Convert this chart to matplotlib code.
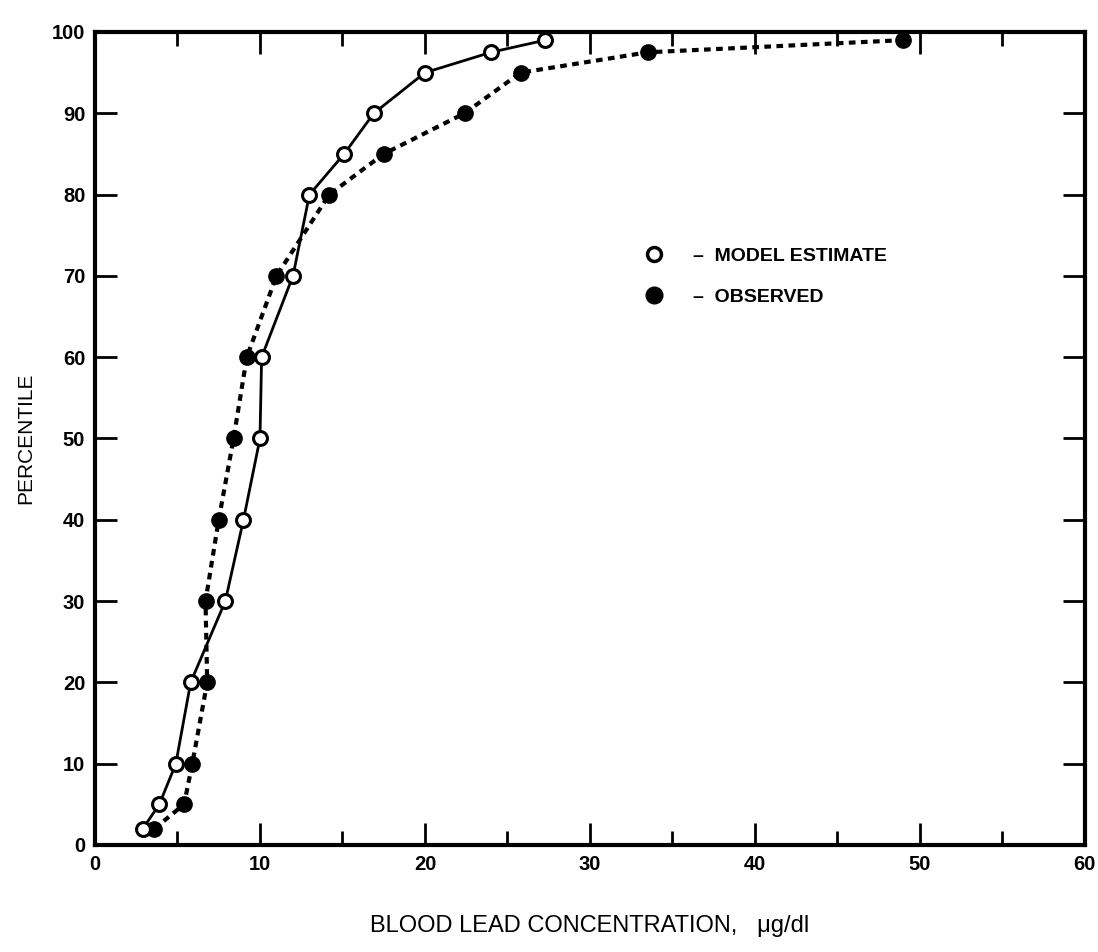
import matplotlib
matplotlib.use('Agg')
import matplotlib.pyplot as plt
from matplotlib.lines import Line2D
from matplotlib.ticker import MultipleLocator

plt.rcParams['font.family'] = ['Liberation Sans', 'DejaVu Sans']

# percentile levels shared by both series
pct = [2, 5, 10, 20, 30, 40, 50, 60, 70, 80, 85, 90, 95, 97.5, 99]
model_x = [2.9, 3.9, 4.9, 5.8, 7.9, 9.0, 10.0, 10.1, 12.0, 13.0, 15.1, 16.9, 20.0, 24.0, 27.3]
obs_x = [3.6, 5.4, 5.9, 6.8, 6.7, 7.5, 8.4, 9.2, 11.0, 14.2, 17.5, 22.4, 25.8, 33.5, 49.0]

fig = plt.figure(figsize=(10.98, 9.52), dpi=100)
ax1 = fig.add_axes([0.0865, 0.1124, 0.9016, 0.854])

ax1.plot(obs_x, pct, color='black', lw=3, ls=(0, (1.6, 1.3)),
         marker='o', ms=11, mfc='black', mec='black', zorder=2)
ax1.plot(model_x, pct, color='black', lw=2, ls='-',
         marker='o', ms=10, mfc='white', mec='black', mew=2.2, zorder=3)

ax1.set_xlim(0, 60)
ax1.set_ylim(0, 100)
ax1.xaxis.set_major_locator(MultipleLocator(10))
ax1.xaxis.set_minor_locator(MultipleLocator(5))
ax1.yaxis.set_major_locator(MultipleLocator(10))

for s in ax1.spines.values():
    s.set_linewidth(3)

ax1.tick_params(which='both', direction='in', top=True, right=True, width=2)
ax1.tick_params(which='major', length=16, pad=7)
ax1.tick_params(which='minor', length=10)
for lab in ax1.get_xticklabels() + ax1.get_yticklabels():
    lab.set_fontweight('bold')
    lab.set_fontsize(14.5)

ax1.set_xlabel('BLOOD LEAD CONCENTRATION,   \u03bcg/dl', fontsize=17, labelpad=30)
ax1.set_ylabel('PERCENTILE', fontsize=15, labelpad=12)

handles = [Line2D([], [], ls='none', marker='o', ms=10, mfc='white', mec='black', mew=2.5),
           Line2D([], [], ls='none', marker='o', ms=12, mfc='black', mec='black')]
labels = ['\u2013  MODEL ESTIMATE', '\u2013  OBSERVED']
ax1.legend(handles, labels, loc='upper left', bbox_to_anchor=(0.555, 0.735),
           frameon=False, borderpad=0, borderaxespad=0, handlelength=1,
           handletextpad=1.5, labelspacing=1.2, prop={'size': 14, 'weight': 'bold'})

fig.savefig('out.png', dpi=100)
